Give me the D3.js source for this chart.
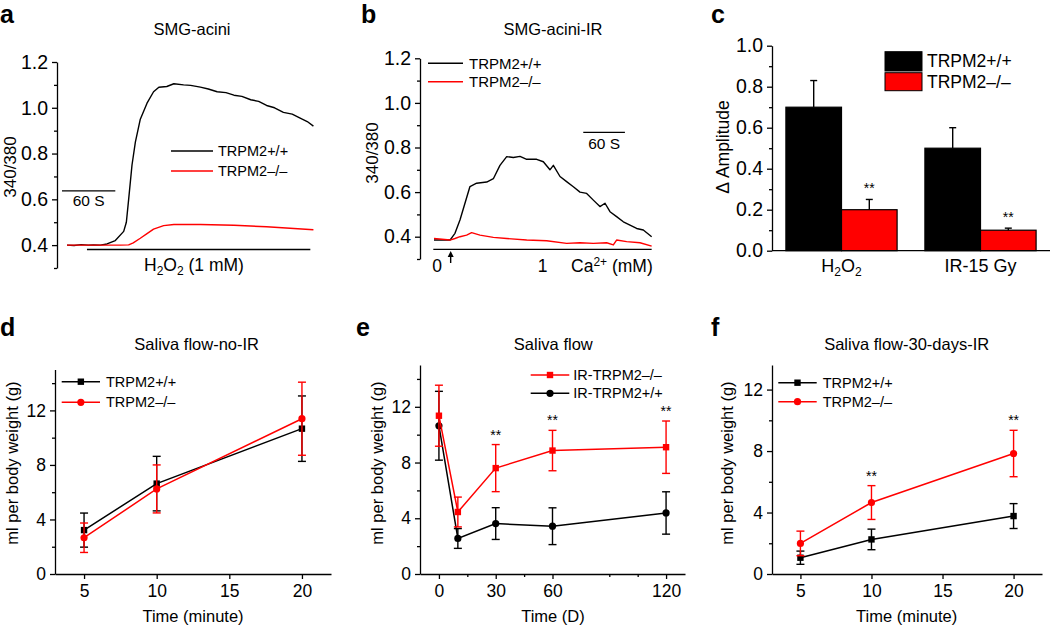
<!DOCTYPE html>
<html><head><meta charset="utf-8">
<script src="https://cdn.jsdelivr.net/npm/d3@7"></script>
<style>
body{margin:0;background:#fff}
text{font-family:"Liberation Sans",Arial,Helvetica,sans-serif;fill:#000}
</style>
</head><body>
<svg id="fig" width="1050" height="630"></svg>
<script>
// ---------- DATA ----------
// Panel a (time in s, 340/380 ratio)
const aWTTime = [0, 8, 16, 24, 30, 37.7, 45.3, 54.7, 64.2, 67.2, 69.8, 73.6, 77.4, 83, 90.6, 98, 104, 113, 121, 132, 140, 151, 160, 170, 180, 189, 198, 208, 217, 226, 235, 245, 255, 264, 272, 279];
const aWTVal  = [0.40, 0.398, 0.402, 0.40, 0.401, 0.40, 0.405, 0.42, 0.46, 0.50, 0.60, 0.75, 0.85, 0.95, 1.02, 1.07, 1.09, 1.093, 1.105, 1.10, 1.098, 1.09, 1.082, 1.07, 1.066, 1.055, 1.05, 1.035, 1.028, 1.01, 1.0, 0.98, 0.972, 0.955, 0.94, 0.92];
const aKOTime = [0, 37.7, 60, 69.8, 75, 83, 90.6, 98, 109.4, 121, 151, 189, 226, 279];
const aKOVal  = [0.40, 0.40, 0.40, 0.401, 0.41, 0.43, 0.45, 0.47, 0.485, 0.49, 0.49, 0.487, 0.48, 0.467];
const aTicks = [0.4, 0.6, 0.8, 1.0, 1.2];
const aMinor = [0.3, 0.5, 0.7, 0.9, 1.1];

// Panel b
const bWTTime = [0, 23, 30.2, 37.4, 44.6, 51.8, 61.4, 75.9, 85.5, 95, 104.7, 114.3, 123.9, 133.5, 147.9, 157.5, 167, 171.9, 181.5, 191, 200.7, 210.3, 219.9, 229.5, 239, 246.3, 253.5, 263, 272.7, 282.3, 291.9, 301.5, 313.5];
const bWTVal  = [0.385, 0.385, 0.415, 0.475, 0.55, 0.625, 0.64, 0.645, 0.66, 0.72, 0.759, 0.755, 0.76, 0.747, 0.747, 0.736, 0.70, 0.72, 0.67, 0.647, 0.624, 0.60, 0.594, 0.564, 0.535, 0.55, 0.512, 0.49, 0.467, 0.452, 0.437, 0.43, 0.40];
const bKOTime = [0, 23, 30.2, 37.4, 47, 54.2, 66.2, 85.5, 104.7, 133.5, 162.3, 191, 210.3, 229.5, 248.7, 258.3, 263, 277.5, 296.7, 313.5];
const bKOVal  = [0.392, 0.385, 0.392, 0.40, 0.407, 0.418, 0.407, 0.397, 0.392, 0.385, 0.382, 0.37, 0.373, 0.37, 0.373, 0.363, 0.385, 0.378, 0.373, 0.358];
const bTicks = [0.4, 0.6, 0.8, 1.0, 1.2];
const bMinor = [0.3, 0.5, 0.7, 0.9, 1.1];

// Panel c
const cCategories = ["H2O2", "IR-15 Gy"];
const cWT = [0.70, 0.50];
const cWTErr = [0.13, 0.10];
const cKO = [0.20, 0.10];
const cKOErr = [0.05, 0.01];
const cTicks = [0.0, 0.2, 0.4, 0.6, 0.8, 1.0];
const cMinor = [0.1, 0.3, 0.5, 0.7, 0.9];

// Panel d
const dTime = [5, 10, 20];
const dWT = [3.22, 6.63, 10.66];
const dWTErr = [1.25, 2.0, 2.4];
const dKO = [2.66, 6.24, 11.39];
const dKOErr = [1.08, 1.76, 2.68];
const dXTicks = [5, 10, 15, 20];
const dYTicks = [0, 4, 8, 12];
const dYMinor = [2, 6, 10, 14];

// Panel e
const eTime = [0, 10, 30, 60, 120];
const eKO = [11.36, 4.45, 7.6, 8.86, 9.1];
const eKOErr = [2.19, 1.07, 1.69, 1.45, 1.88];
const eWT = [10.64, 2.55, 3.62, 3.43, 4.38];
const eWTErr = [2.47, 0.71, 1.14, 1.32, 1.52];
const eStars = [30, 60, 120];
const eXTicks = [0, 30, 60, 120];
const eXMinor = [15, 45, 90, 105];
const eYTicks = [0, 4, 8, 12];
const eYMinor = [2, 6, 10, 14];

// Panel f
const fTime = [5, 10, 20];
const fWT = [1.06, 2.25, 3.77];
const fWTErr = [0.43, 0.67, 0.81];
const fKO = [1.99, 4.65, 7.84];
const fKOErr = [0.8, 1.1, 1.51];
const fStars = [10, 20];
const fXTicks = [5, 10, 15, 20];
const fYTicks = [0, 4, 8, 12];
const fYMinor = [2, 6, 10];

const RED = "#ff0000";
const svg = d3.select("#fig");

// ---------- HELPERS ----------
function yAxis(x, scale, major, minor, fmt, fs) {
  const g = svg.append("g").attr("transform", `translate(${x},0)`);
  g.call(d3.axisLeft(scale).tickValues(major).tickFormat(fmt).tickSize(5).tickSizeOuter(0).tickPadding(4));
  const m = svg.append("g").attr("transform", `translate(${x},0)`);
  m.call(d3.axisLeft(scale).tickValues(minor).tickFormat("").tickSize(3).tickSizeOuter(0));
  m.select(".domain").remove();
  [g, m].forEach(s => { s.selectAll("line,path").attr("stroke", "#000").attr("stroke-width", 1.3); });
  g.selectAll("text").attr("font-size", fs).attr("font-family", "Liberation Sans, Arial, sans-serif");
  return g;
}
function xAxis(y, scale, major, minor, fs) {
  const g = svg.append("g").attr("transform", `translate(0,${y})`);
  g.call(d3.axisBottom(scale).tickValues(major).tickFormat(d3.format("d")).tickSize(5).tickSizeOuter(0).tickPadding(6));
  g.selectAll("line,path").attr("stroke", "#000").attr("stroke-width", 1.3);
  g.selectAll("text").attr("font-size", fs).attr("font-family", "Liberation Sans, Arial, sans-serif");
  if (minor && minor.length) {
    const m = svg.append("g").attr("transform", `translate(0,${y})`);
    m.call(d3.axisBottom(scale).tickValues(minor).tickFormat("").tickSize(3).tickSizeOuter(0));
    m.select(".domain").remove();
    m.selectAll("line").attr("stroke", "#000").attr("stroke-width", 1.3);
  }
}
function txt(x, y, s, fs, anchor, extra) {
  const t = svg.append("text").attr("x", x).attr("y", y).attr("font-size", fs)
    .attr("text-anchor", anchor || "start").text(s);
  if (extra) extra(t);
  return t;
}
function ylab(cx, cy, s, fs) {
  svg.append("text").attr("transform", `translate(${cx},${cy}) rotate(-90)`)
    .attr("text-anchor", "middle").attr("font-size", fs).text(s);
}
function letter(x, y, s) {
  svg.append("text").attr("x", x).attr("y", y).attr("font-size", 25)
    .attr("font-weight", "bold").text(s);
}
function trace(xs, ys, times, vals, color) {
  const line = d3.line().x((d, i) => xs(times[i])).y(d => ys(d));
  svg.append("path").datum(vals).attr("d", line).attr("fill", "none")
    .attr("stroke", color).attr("stroke-width", 1.4).attr("stroke-linejoin", "round");
}
function hline(x1, x2, y, w) {
  svg.append("line").attr("x1", x1).attr("x2", x2).attr("y1", y).attr("y2", y)
    .attr("stroke", "#000").attr("stroke-width", w || 1.4);
}
function errBars(xs, ys, xv, yv, ev, color, cap) {
  const g = svg.append("g").attr("stroke", color).attr("stroke-width", 1.4);
  xv.forEach((x, i) => {
    const px = xs(x), t = ys(yv[i] + ev[i]), b = ys(yv[i] - ev[i]);
    g.append("line").attr("x1", px).attr("x2", px).attr("y1", t).attr("y2", b);
    g.append("line").attr("x1", px - cap).attr("x2", px + cap).attr("y1", t).attr("y2", t);
    g.append("line").attr("x1", px - cap).attr("x2", px + cap).attr("y1", b).attr("y2", b);
  });
}
function series(xs, ys, xv, yv, ev, color, shape) {
  const line = d3.line().x((d, i) => xs(xv[i])).y(d => ys(d));
  errBars(xs, ys, xv, yv, ev, color, 4);
  svg.append("path").datum(yv).attr("d", line).attr("fill", "none")
    .attr("stroke", color).attr("stroke-width", 1.5);
  marker(xv.map(xs), yv.map(ys), color, shape);
}
function marker(pxs, pys, color, shape) {
  pxs.forEach((px, i) => {
    if (shape === "square") {
      svg.append("rect").attr("x", px - 3.2).attr("y", pys[i] - 3.2).attr("width", 6.4).attr("height", 6.4).attr("fill", color);
    } else {
      svg.append("circle").attr("cx", px).attr("cy", pys[i]).attr("r", 3.6).attr("fill", color);
    }
  });
}
function legendLine(x1, x2, y, tx, label, color, shape, fs) {
  svg.append("line").attr("x1", x1).attr("x2", x2).attr("y1", y).attr("y2", y)
    .attr("stroke", color).attr("stroke-width", 1.5);
  if (shape) marker([(x1 + x2) / 2], [y], color, shape);
  txt(tx, y, label, fs, "start", t => t.attr("dominant-baseline", "central"));
}

// ---------- PANEL A ----------
{
  const xs = d3.scaleLinear().domain([0, 280]).range([67, 314.3]);
  const ys = d3.scaleLinear().domain([0.3, 1.2]).range([268, 62]);
  yAxis(57, ys, aTicks, aMinor, d3.format(".1f"), 19.5);
  trace(xs, ys, aWTTime, aWTVal, "#000");
  trace(xs, ys, aKOTime, aKOVal, RED);
  hline(xs(-5.7), xs(54.7), ys(0.637));
  txt(xs(24.5), 206, "60 S", 15.5, "middle");
  hline(xs(22.6), xs(275.5), ys(0.381));
  txt(194, 271, "", 17.5, "middle", t => {
    t.append("tspan").text("H");
    t.append("tspan").attr("font-size", 12).attr("dy", 4).text("2");
    t.append("tspan").attr("dy", -4).text("O");
    t.append("tspan").attr("font-size", 12).attr("dy", 4).text("2");
    t.append("tspan").attr("dy", -4).text(" (1 mM)");
  });
  legendLine(171, 213, 151, 218, "TRPM2+/+", "#000", null, 14.5);
  legendLine(171, 213, 171, 218, "TRPM2\u2013/\u2013", RED, null, 14.5);
  txt(192, 35, "SMG-acini", 16.5, "middle");
  ylab(16, 167, "340/380", 17);
  letter(0, 23, "a");
}

// ---------- PANEL B ----------
{
  const xs = d3.scaleLinear().domain([0, 314]).range([434, 652]);
  const ys = d3.scaleLinear().domain([0.3, 1.2]).range([259, 58.3]);
  yAxis(420, ys, bTicks, bMinor, d3.format(".1f"), 19.5);
  trace(xs, ys, bWTTime, bWTVal, "#000");
  trace(xs, ys, bKOTime, bKOVal, RED);
  hline(xs(215), xs(275), ys(0.868));
  txt(xs(245), 149.3, "60 S", 15.5, "middle");
  hline(xs(-1), xs(313.5), ys(0.343));
  // arrow
  const ax = xs(24);
  svg.append("line").attr("x1", ax).attr("x2", ax).attr("y1", 263).attr("y2", 255).attr("stroke", "#000").attr("stroke-width", 1.4);
  svg.append("path").attr("d", `M${ax - 3},${257} L${ax},${251} L${ax + 3},${257} Z`).attr("fill", "#000");
  txt(437, 272, "0", 17.5, "middle");
  txt(542.7, 272, "1", 17.5, "middle");
  txt(571, 272, "", 17.5, "start", t => {
    t.append("tspan").text("Ca");
    t.append("tspan").attr("font-size", 12).attr("dy", -6).text("2+");
    t.append("tspan").attr("dy", 6).text(" (mM)");
  });
  legendLine(428, 463, 63.3, 469, "TRPM2+/+", "#000", null, 15);
  legendLine(428, 463, 81.7, 469, "TRPM2\u2013/\u2013", RED, null, 15);
  txt(553, 35, "SMG-acini-IR", 16.5, "middle");
  ylab(377.5, 153, "340/380", 17);
  letter(361, 23, "b");
}

// ---------- PANEL C ----------
{
  const xg = d3.scaleBand().domain(cCategories).range([772, 1050]).paddingInner(0.2).paddingOuter(0.1);
  const xi = d3.scaleBand().domain(["wt", "ko"]).range([0, xg.bandwidth()]);
  const ys = d3.scaleLinear().domain([0, 1]).range([250.7, 45.7]);
  cCategories.forEach((c, i) => {
    const x0 = xg(c);
    [["wt", cWT[i], cWTErr[i], "#000"], ["ko", cKO[i], cKOErr[i], RED]].forEach(([k, v, e, col]) => {
      const bx = x0 + xi(k), bw = xi.bandwidth(), cx = bx + bw / 2;
      svg.append("line").attr("x1", cx).attr("x2", cx).attr("y1", ys(v)).attr("y2", ys(v + e)).attr("stroke", "#000").attr("stroke-width", 1.4);
      svg.append("line").attr("x1", cx - 3.5).attr("x2", cx + 3.5).attr("y1", ys(v + e)).attr("y2", ys(v + e)).attr("stroke", "#000").attr("stroke-width", 1.4);
      if (k === "ko") {
        svg.append("line").attr("x1", cx).attr("x2", cx).attr("y1", ys(v)).attr("y2", ys(v - e)).attr("stroke", "#000").attr("stroke-width", 1.4);
        svg.append("line").attr("x1", cx - 3.5).attr("x2", cx + 3.5).attr("y1", ys(v - e)).attr("y2", ys(v - e)).attr("stroke", "#000").attr("stroke-width", 1.4);
      }
      svg.append("rect").attr("x", bx).attr("y", ys(v)).attr("width", bw).attr("height", ys(0) - ys(v))
        .attr("fill", col).attr("stroke", "#000").attr("stroke-width", 1.2);
      if (k === "ko") txt(cx, ys(v + e) - 6, "**", 14, "middle");
    });
  });
  yAxis(772, ys, cTicks, cMinor, d3.format(".1f"), 19.5);
  hline(772, 1050, ys(0), 1.3);
  txt(xg("H2O2") + xg.bandwidth() / 2, 272, "", 18, "middle", t => {
    t.append("tspan").text("H");
    t.append("tspan").attr("font-size", 12).attr("dy", 4).text("2");
    t.append("tspan").attr("dy", -4).text("O");
    t.append("tspan").attr("font-size", 12).attr("dy", 4).text("2");
  });
  txt(xg("IR-15 Gy") + xg.bandwidth() / 2, 272, "IR-15 Gy", 18, "middle");
  svg.append("rect").attr("x", 885).attr("y", 51.7).attr("width", 37).attr("height", 19.3).attr("fill", "#000").attr("stroke", "#000");
  svg.append("rect").attr("x", 885).attr("y", 72.7).attr("width", 37).attr("height", 18).attr("fill", RED).attr("stroke", "#000");
  txt(927, 61, "TRPM2+/+", 17.5, "start", t => t.attr("dominant-baseline", "central"));
  txt(927, 81.7, "TRPM2\u2013/\u2013", 17.5, "start", t => t.attr("dominant-baseline", "central"));
  ylab(729, 147, "\u0394 Amplitude", 17.5);
  letter(711, 23, "c");
}

// ---------- PANEL D ----------
{
  const xs = d3.scaleLinear().domain([3, 22]).range([55, 331]);
  const ys = d3.scaleLinear().domain([0, 15]).range([574, 369.5]);
  yAxis(55, ys, dYTicks, dYMinor, d3.format("d"), 17.5);
  xAxis(574, xs, dXTicks, null, 17.5);
  series(xs, ys, dTime, dWT, dWTErr, "#000", "square");
  series(xs, ys, dTime, dKO, dKOErr, RED, "circle");
  legendLine(61.7, 100, 381.7, 106, "TRPM2+/+", "#000", "square", 14.5);
  legendLine(61.7, 100, 402.3, 106, "TRPM2\u2013/\u2013", RED, "circle", 14.5);
  txt(196.7, 350, "Saliva flow-no-IR", 16.5, "middle");
  txt(193, 622, "Time (minute)", 16.5, "middle");
  ylab(17.5, 463, "ml per body weight (g)", 16.5);
  letter(0, 336, "d");
}

// ---------- PANEL E ----------
{
  const xs = d3.scaleLinear().domain([-10, 130]).range([420, 685]);
  const ys = d3.scaleLinear().domain([0, 15]).range([574, 365]);
  yAxis(420, ys, eYTicks, eYMinor, d3.format("d"), 17.5);
  xAxis(574, xs, eXTicks, eXMinor, 17.5);
  series(xs, ys, eTime, eWT, eWTErr, "#000", "circle");
  series(xs, ys, eTime, eKO, eKOErr, RED, "square");
  eStars.forEach(t => {
    const i = eTime.indexOf(t);
    txt(xs(t), ys(eKO[i] + eKOErr[i]) - 5, "**", 14, "middle");
  });
  legendLine(530.7, 569.3, 375, 573.3, "IR-TRPM2\u2013/\u2013", RED, "square", 14.5);
  legendLine(530.7, 569.3, 393.3, 573.3, "IR-TRPM2+/+", "#000", "circle", 14.5);
  txt(553.3, 350, "Saliva flow", 16.5, "middle");
  txt(553, 622, "Time (D)", 16.5, "middle");
  ylab(382.5, 463, "ml per body weight (g)", 16.5);
  letter(356, 336, "e");
}

// ---------- PANEL F ----------
{
  const xs = d3.scaleLinear().domain([3, 22]).range([772, 1042]);
  const ys = d3.scaleLinear().domain([0, 13.6]).range([574, 365]);
  yAxis(772, ys, fYTicks, fYMinor, d3.format("d"), 17.5);
  xAxis(574, xs, fXTicks, null, 17.5);
  series(xs, ys, fTime, fWT, fWTErr, "#000", "square");
  series(xs, ys, fTime, fKO, fKOErr, RED, "circle");
  fStars.forEach(t => {
    const i = fTime.indexOf(t);
    txt(xs(t), ys(fKO[i] + fKOErr[i]) - 5, "**", 14, "middle");
  });
  legendLine(778.3, 816.7, 382.7, 822.7, "TRPM2+/+", "#000", "square", 14.5);
  legendLine(778.3, 816.7, 401.7, 822.7, "TRPM2\u2013/\u2013", RED, "circle", 14.5);
  txt(906.7, 350, "Saliva flow-30-days-IR", 16.5, "middle");
  txt(906.7, 622, "Time (minute)", 16.5, "middle");
  ylab(732.5, 463, "ml per body weight (g)", 16.5);
  letter(711, 336, "f");
}
</script>
</body></html>
